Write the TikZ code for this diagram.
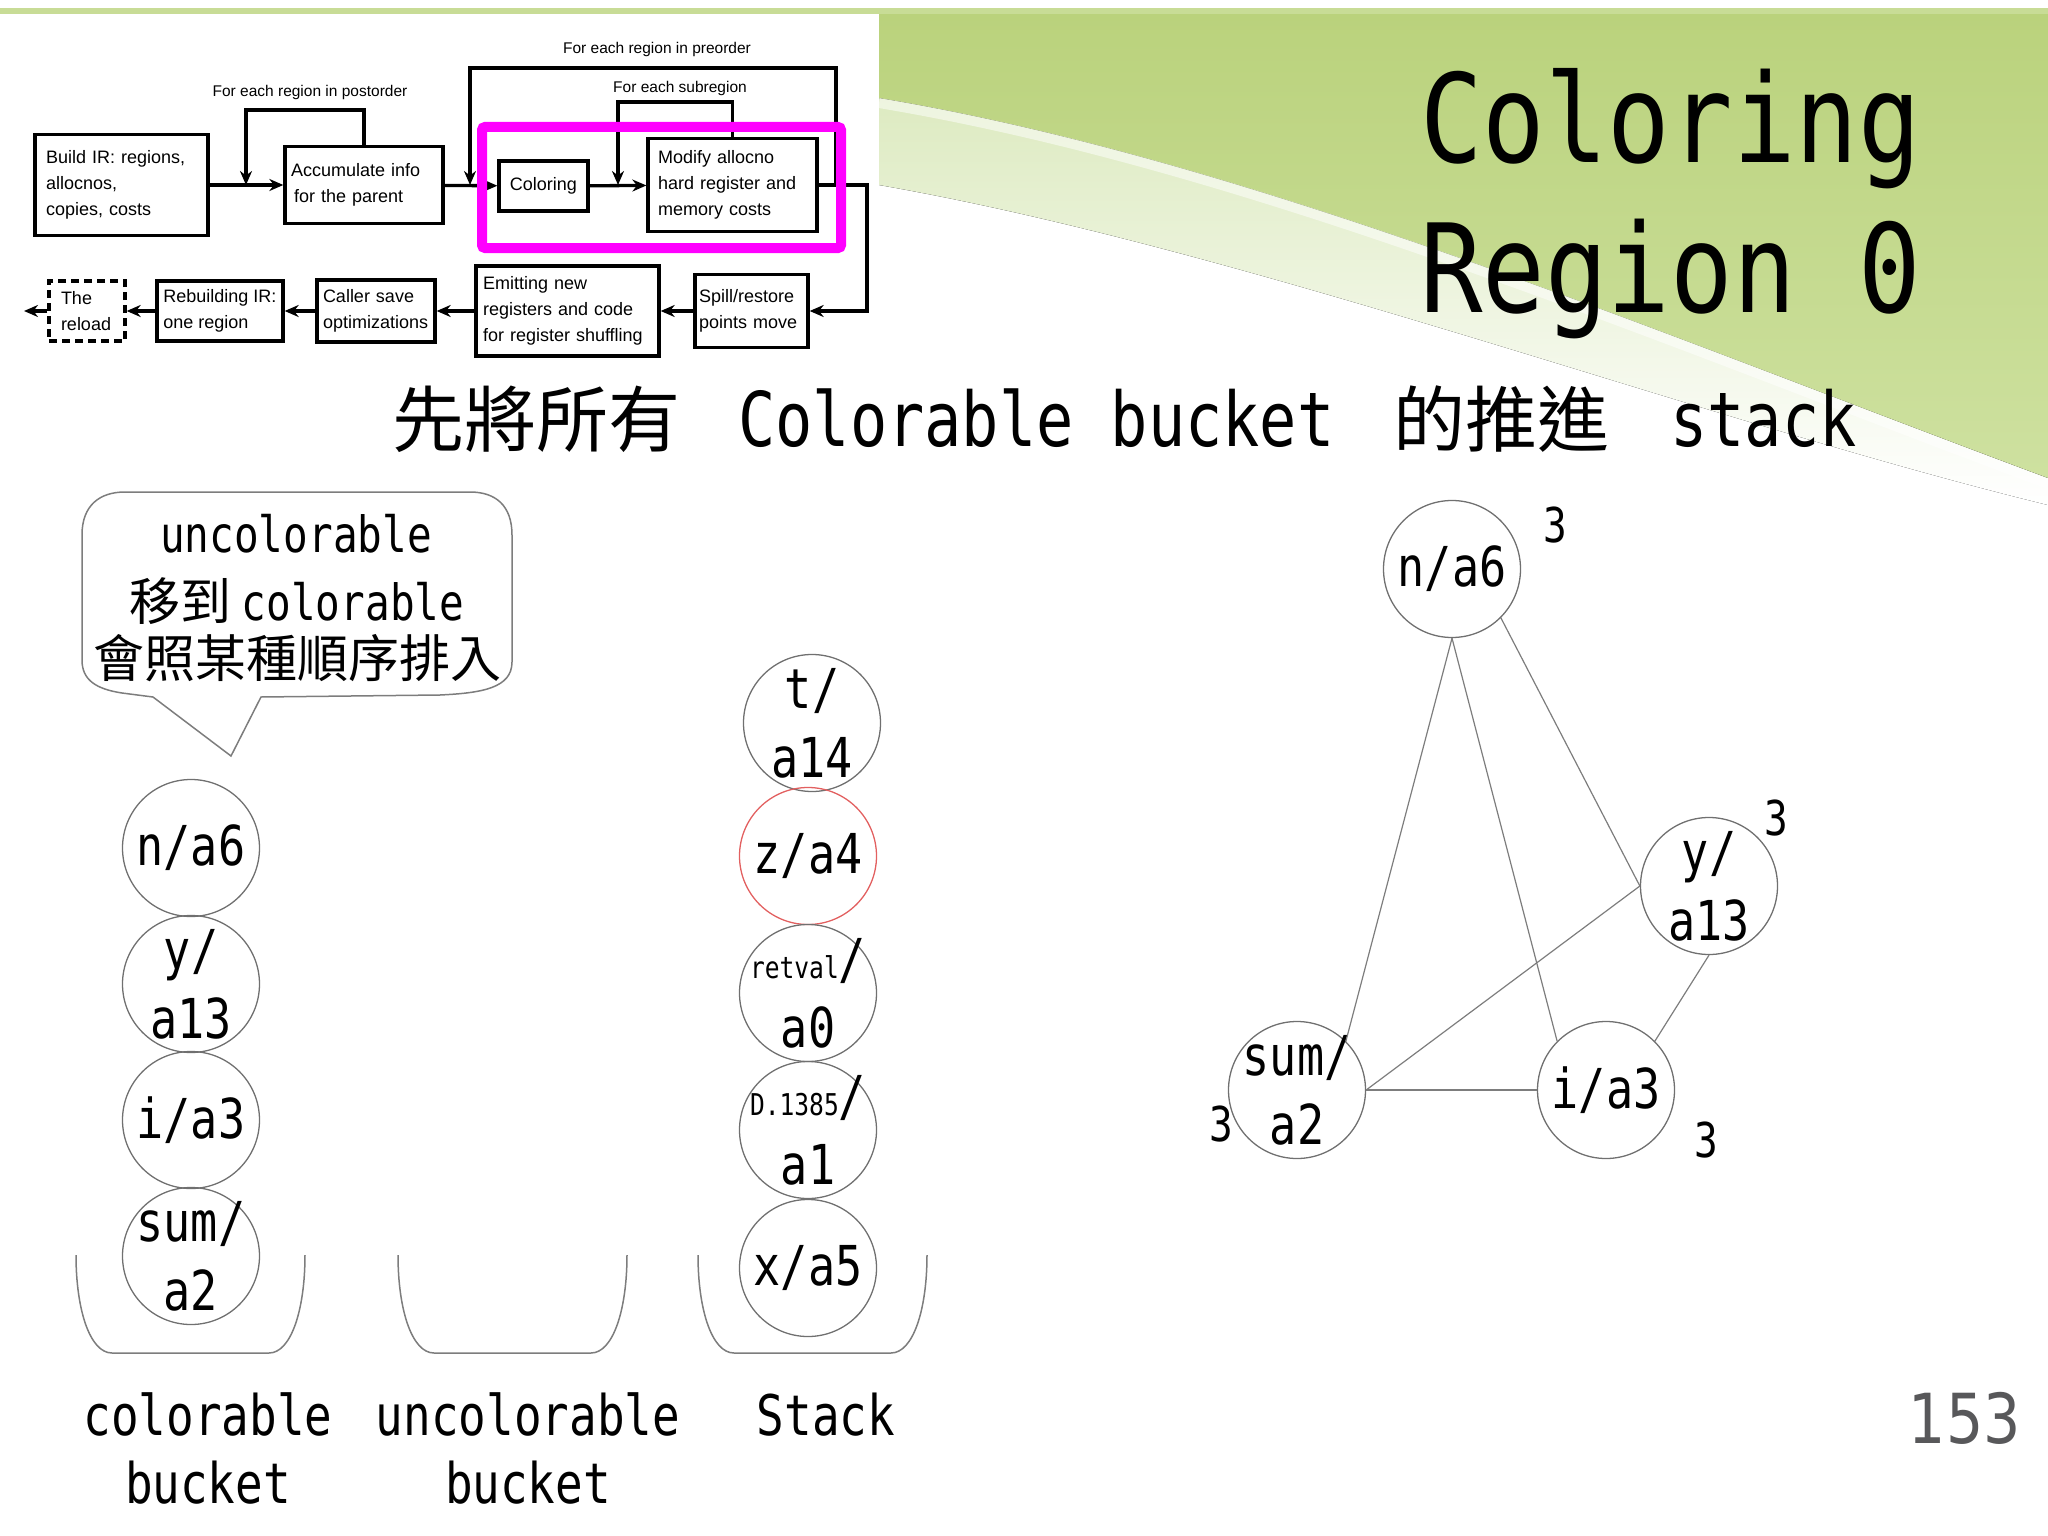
\documentclass[tikz,border=0pt]{standalone}
\usepackage{fontspec}
\setmainfont{DejaVu Sans Mono}[FakeStretch=0.82]
\newfontfamily\titlefont{DejaVu Sans Mono}[FakeStretch=0.845]
\newfontfamily\cjk{Noto Sans CJK TC}
\newfontfamily\flowfont{Liberation Sans}
\newfontfamily\pagefont{DejaVu Sans}[FakeStretch=0.85]
\usetikzlibrary{arrows.meta}
\definecolor{gA}{RGB}{186,210,124}
\definecolor{gC}{RGB}{206,225,160}
\definecolor{gB}{RGB}{214,230,180}
\definecolor{band}{RGB}{200,220,150}
\definecolor{vgray}{RGB}{112,112,112}
\definecolor{egray}{RGB}{125,125,125}
\definecolor{vred}{RGB}{226,96,96}
\definecolor{pnum}{RGB}{88,88,90}
\definecolor{mag}{RGB}{255,0,255}
\begin{document}
\begin{tikzpicture}[x=1pt,y=-1pt,
  fbox/.style={draw, line width=3.3pt, font=\flowfont\fontsize{18}{26}\selectfont, align=left, inner ysep=0pt},
  farrow/.style={line width=3.3pt, -{Stealth[length=14pt,width=12pt]}},
  flab/.style={font=\flowfont\fontsize{15.5}{18}\selectfont, inner sep=0pt},
  vnode/.style={circle, draw=vgray, line width=1.3pt, minimum size=137pt, inner sep=0pt},
  vtext/.style={font=\fontsize{55}{69}\selectfont, align=center, inner sep=0pt},
  gedge/.style={draw=egray, line width=1.2pt},
  bucketline/.style={draw=egray, line width=1.5pt},
  deg/.style={font=\fontsize{48}{48}\selectfont, inner sep=0pt},
  lab/.style={font=\fontsize{56}{68}\selectfont, inner sep=0pt, anchor=base},
  ttl/.style={font=\titlefont\fontsize{123}{149}\selectfont, inner sep=0pt, anchor=base west},
  sub/.style={font=\fontsize{75.5}{75}\selectfont, inner sep=0pt, anchor=base west},
  subcjk/.style={font=\cjk\fontsize{72}{72}\selectfont, inner sep=0pt, anchor=base west},
  bub/.style={font=\fontsize{50}{60}\selectfont, inner sep=0pt, anchor=base},
  bucket/.pic={\draw[bucketline] (0,0) .. controls (0,55) and (14,98) .. (36,98) -- (193,98) .. controls (215,98) and (229,55) .. (229,0);}
]
\useasboundingbox (0,0) rectangle (2048,1536);

% background
\fill[top color=gB, bottom color=white] (879,14) -- (2048,14) -- (2048,505) .. controls (1700,420) and (1250,250) .. (879,185) -- cycle;
\fill[top color=gA, bottom color=gC] (879,14) -- (2048,14) -- (2048,478) .. controls (1650,330) and (1250,160) .. (879,98) -- cycle;
\draw[white, opacity=0.5, line width=10pt] (879,103) .. controls (1250,165) and (1650,335) .. (2048,484);
\fill[band] (0,8) rectangle (2048,14);

% flowchart
\node[fbox, minimum width=173pt, minimum height=101pt, text width=151pt, inner xsep=11pt] (build) at (121.5,185) {Build IR: regions,\\allocnos,\\copies, costs};
\node[fbox, minimum width=158pt, minimum height=77pt, text width=146pt, inner xsep=6pt] (acc) at (364,185) {Accumulate info\\\hspace*{3pt}for the parent};
\node[fbox, minimum width=89pt, minimum height=50pt, align=center] (col) at (543.5,186) {Coloring};
\node[fbox, minimum width=169pt, minimum height=93pt, text width=149pt, inner xsep=10pt] (mod) at (732.5,185) {Modify allocno\\hard register and\\memory costs};
\node[fbox, minimum width=113pt, minimum height=73pt, text width=105pt, inner xsep=4pt] (spill) at (751.5,311) {Spill/restore\\points move};
\node[fbox, minimum width=183pt, minimum height=90pt, text width=169pt, inner xsep=7pt] (emit) at (567.5,311) {Emitting new\\registers and code\\for register shuffling};
\node[fbox, minimum width=118pt, minimum height=62pt, text width=106pt, inner xsep=6pt] (caller) at (376,311) {Caller save\\optimizations};
\node[fbox, minimum width=126pt, minimum height=60pt, inner xsep=2pt] (rebuild) at (220,311) {Rebuilding IR:\\one region};
\node[fbox, dash pattern=on 8pt off 5pt, minimum width=76pt, minimum height=60pt, text width=52pt, inner xsep=12pt] (reload) at (87,311) {The\\reload};

\node[flab] (lpost) at (310,92) {For each region in postorder};
\node[flab] (lpre) at (657,49) {For each region in preorder};
\node[flab] (lsub) at (680,88) {For each subregion};

\coordinate (po) at (246,185);
\coordinate (pre1) at (836,185);
\coordinate (pre2) at (470,185);
\coordinate (sb) at (618,185);
\coordinate (rt) at (867,185);
\coordinate (out) at (24,311);

\draw[farrow] (build) -- (acc);
\draw[farrow] (acc.north) -- (364,110) -- (246,110) -- (po);
\draw[farrow] (acc) -- (col);
\draw[farrow] (pre1) -- (836,68) -- (470,68) -- (pre2);
\draw[farrow] (col) -- (mod);
\draw[farrow] (mod.north) -- (732.5,102) -- (618,102) -- (sb);
\draw[farrow] (mod.east) -- (rt) -- (867,311) -- (spill.east);
\draw[farrow] (spill) -- (emit);
\draw[farrow] (emit) -- (caller);
\draw[farrow] (caller) -- (rebuild);
\draw[farrow] (rebuild) -- (reload);
\draw[farrow] (reload) -- (out);
\draw[mag, line width=10pt, rounded corners=3pt] (482,127) rectangle (841,248);

% title
\node[ttl] (t1) at (1420,163) {Coloring};
\node[ttl] (t2) at (1420,312) {Region 0};

% subtitle
\node[subcjk] (s1a) at (392,446) {先將所有};
\node[sub] (s1b) at (738,446) {Colorable bucket};
\node[subcjk] (s1c) at (1393,446) {的推進};
\node[sub] (s1d) at (1670,446) {stack};

% speech bubble
\draw[draw=egray, line width=1.5pt] (125,492) -- (470,492) .. controls (495,492) and (512,505) .. (512,535) -- (512,662) .. controls (512,688) and (482,693) .. (440,695) -- (261,697) -- (231,756) -- (153,697) -- (122,693) .. controls (96,689) and (82,680) .. (82,660) -- (82,535) .. controls (82,505) and (100,492) .. (125,492) -- cycle;
\node[bub] (b1) at (296,552) {uncolorable};
\node[bub] (b2) at (297,620) {{\cjk\fontsize{51}{60}\selectfont 移到}\hspace{10pt}colorable};
\node[bub, font=\cjk\fontsize{51}{60}\selectfont] (b3) at (297,677) {會照某種順序排入};

% buckets
\pic at (76,1255) {bucket};
\pic at (398,1255) {bucket};
\pic at (698,1255) {bucket};
\node[lab] (l1a) at (208,1435) {colorable};
\node[lab] (l1b) at (208,1503) {bucket};
\node[lab] (l2a) at (528,1435) {uncolorable};
\node[lab] (l2b) at (528,1503) {bucket};
\node[lab] (l3a) at (826,1435) {Stack};

% colorable bucket column
\node[vnode] (c1) at (191,848) {};
\node[vnode] (c2) at (191,984) {};
\node[vnode] (c3) at (191,1120) {};
\node[vnode] (c4) at (191,1256) {};
\node[vtext] (c1t) at (c1) {n/a6};
\node[vtext] (c2t) at (c2) {y/\\a13};
\node[vtext] (c3t) at (c3) {i/a3};
\node[vtext] (c4t) at (c4) {sum/\\a2};

% stack column
\node[vnode] (k1) at (812,723) {};
\node[vnode, draw=vred] (k2) at (808,856) {};
\node[vnode] (k3) at (808,993) {};
\node[vnode] (k4) at (808,1130) {};
\node[vnode] (k5) at (808,1268) {};
\node[vtext] (k1t) at (k1) {t/\\a14};
\node[vtext] (k2t) at (k2) {z/a4};
\node[vtext] (k3t) at (k3) {{\fontsize{30}{30}\selectfont retval}/\\a0};
\node[vtext] (k4t) at (k4) {{\fontsize{30}{30}\selectfont D.1385}/\\a1};
\node[vtext] (k5t) at (k5) {x/a5};

% graph
\node[vnode] (g1) at (1452,569) {};
\node[vnode] (g2) at (1709,886) {};
\node[vnode] (g3) at (1606,1090) {};
\node[vnode] (g4) at (1297,1090) {};
\node[vtext] (g1t) at (g1) {n/a6};
\node[vtext] (g2t) at (g2) {y/\\a13};
\node[vtext] (g3t) at (g3) {i/a3};
\node[vtext] (g4t) at (g4) {sum/\\a2};
\draw[gedge] (g1.south) -- (g4.north east);
\draw[gedge] (g1.south) -- (g3.north west);
\draw[gedge] (g1.south east) -- (g2.west);
\draw[gedge] (g2.west) -- (g4.east);
\draw[gedge] (g2.south) -- (g3.north east);
\draw[gedge] (g4.east) -- (g3.west);
\node[deg] (d1) at (1555,525) {3};
\node[deg] (d2) at (1776,818) {3};
\node[deg] (d3) at (1706,1140) {3};
\node[deg] (d4) at (1221,1124) {3};

% page number
\node[font=\pagefont\fontsize{69}{69}\selectfont, text=pnum, inner sep=0pt, anchor=base east] (pg) at (2021,1443) {153};
\end{tikzpicture}
\end{document}
